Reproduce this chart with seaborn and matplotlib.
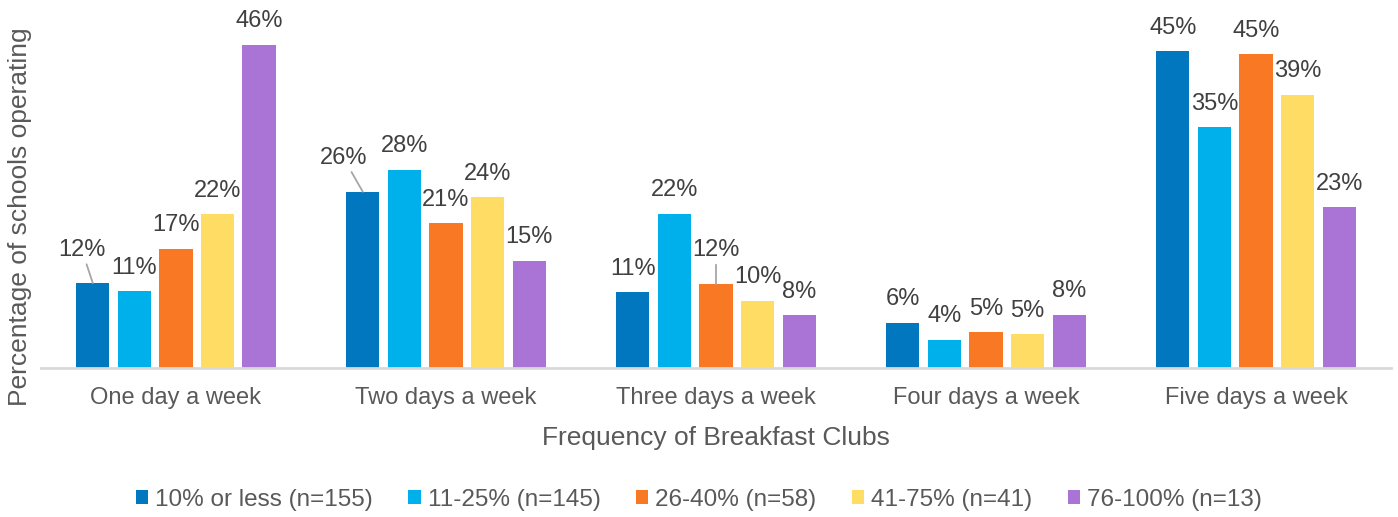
import matplotlib
matplotlib.use("Agg")
import matplotlib.pyplot as plt
import seaborn as sns
import pandas as pd

# chart data (bar heights, labels as printed)
frequencies = ["One day a week", "Two days a week", "Three days a week",
               "Four days a week", "Five days a week"]
groups = ["10% or less (n=155)", "11-25% (n=145)", "26-40% (n=58)",
          "41-75% (n=41)", "76-100% (n=13)"]

pct_10_or_less = [12.1, 25.1, 10.8, 6.4, 45.1]
pct_11_25 = [10.9, 28.2, 22.0, 4.0, 34.3]
pct_26_40 = [17.0, 20.6, 11.9, 5.1, 44.7]
pct_41_75 = [21.9, 24.3, 9.6, 4.8, 38.9]
pct_76_100 = [46.0, 15.3, 7.5, 7.6, 22.9]

lbl_10_or_less = ["12%", "26%", "11%", "6%", "45%"]
lbl_11_25 = ["11%", "28%", "22%", "4%", "35%"]
lbl_26_40 = ["17%", "21%", "12%", "5%", "45%"]
lbl_41_75 = ["22%", "24%", "10%", "5%", "39%"]
lbl_76_100 = ["46%", "15%", "8%", "8%", "23%"]

colors = ["#0077BF", "#00B0EB", "#F87824", "#FFDC64", "#A974D6"]

series = [pct_10_or_less, pct_11_25, pct_26_40, pct_41_75, pct_76_100]
series_labels = [lbl_10_or_less, lbl_11_25, lbl_26_40, lbl_41_75, lbl_76_100]

rows = []
for g, vals in zip(groups, series):
    for f, v in zip(frequencies, vals):
        rows.append({"Frequency": f, "Group": g, "Percent": v})
df = pd.DataFrame(rows)

sns.set_style("white")
plt.rcParams["font.family"] = ["Liberation Sans", "DejaVu Sans"]

fig = plt.figure(figsize=(13.98, 5.17), dpi=100)
ax = fig.add_axes([0.0293, 0.2882, 0.9657, 0.6789])

sns.barplot(data=df, x="Frequency", y="Percent", hue="Group",
            order=frequencies, hue_order=groups, palette=colors,
            width=0.77, gap=0.2, linewidth=0, saturation=1,
            legend=True, ax=ax)

ax.set_ylim(0, 50)
ax.set_xlim(-0.5, 4.5)

# labels that were moved off their bar in the original, with leader lines
moved = {(0, 0): (-7.9, 23.8), (0, 1): (-14.0, 24.5), (2, 2): (0, 24.5)}

for si, cont in enumerate(ax.containers):
    for ci, bar in enumerate(cont):
        x = bar.get_x() + bar.get_width() / 2
        y = bar.get_height()
        if (si, ci) in moved:
            ax.annotate(series_labels[si][ci], xy=(x, y),
                        xytext=moved[(si, ci)], textcoords="offset points",
                        ha="center", va="center", fontsize=17, color="#404040",
                        arrowprops=dict(arrowstyle="-", color="#A6A6A6",
                                        lw=1.3, shrinkA=0, shrinkB=0))
        else:
            ax.annotate(series_labels[si][ci], xy=(x, y),
                        xytext=(0, 17.0), textcoords="offset points",
                        ha="center", va="center", fontsize=17, color="#404040")

sns.despine(ax=ax, left=True)
ax.spines["bottom"].set_color("#D9D9D9")
ax.spines["bottom"].set_linewidth(2)
ax.set_yticks([])
ax.set_ylabel("")
ax.tick_params(axis="x", length=0, pad=14, labelsize=17, labelcolor="#595959")
ax.set_xlabel("Frequency of Breakfast Clubs", fontsize=19, color="#595959",
              labelpad=12)

fig.text(20 / 1398, 1 - 217 / 517, "Percentage of schools operating",
         rotation=90, ha="center", va="center", fontsize=19, color="#595959")

handles, labs = ax.get_legend_handles_labels()
ax.legend_.remove()
fig.legend(handles, labs, loc="center", bbox_to_anchor=(0.5, 1 - 500 / 517),
           ncol=5, frameon=False, fontsize=17.5, labelcolor="#595959",
           handlelength=0.5, handleheight=0.5, handletextpad=0.3,
           columnspacing=1.45)

fig.savefig("out.png", dpi=100)
